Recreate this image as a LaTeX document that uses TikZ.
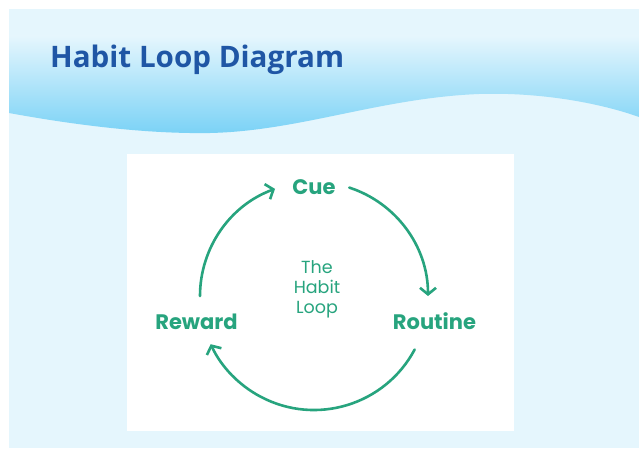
\documentclass[tikz,border=0pt]{standalone}
\usepackage{fontspec}
\setmainfont{Poppins}
\newfontfamily\headfont{Open Sans}
\usetikzlibrary{arrows.meta}

\definecolor{sky}{HTML}{E5F6FD}
\definecolor{wave}{HTML}{7AD2F6}
\definecolor{wavemid}{HTML}{B8E4F6}
\definecolor{navy}{HTML}{1F56A5}
\definecolor{loopgreen}{HTML}{27A47E}

\begin{document}
\begin{tikzpicture}[x=1pt,y=1pt,
  looparc/.style={draw=loopgreen,line width=2.6pt,line cap=round,
    -{Straight Barb[length=6.5pt,width=16pt,line width=2.6pt]}},
  stage/.style={text=loopgreen,font=\fontsize{21}{25}\selectfont\bfseries,anchor=base},
  core/.style={text=loopgreen,font=\fontsize{17.5}{19.8}\selectfont,align=center,anchor=base}]

\useasboundingbox (0,0) rectangle (639,448);
\fill[white] (0,0) rectangle (639,448);
\fill[sky] (9,0) rectangle (639,439);

% header band with the wave
\begin{scope}
  \clip (9,439) -- (9,335) .. controls (80,322) and (150,314) .. (210,315)
    .. controls (300,317) and (380,350) .. (479,354)
    .. controls (540,356) and (600,345) .. (639,331) -- (639,439) -- cycle;
  \shade[top color=sky,middle color=wavemid,bottom color=wave] (9,314) rectangle (639,412);
\end{scope}
\node[anchor=base west,inner sep=0pt,text=navy,
  font=\headfont\fontsize{29.6}{34}\selectfont\bfseries] (title) at (50,380) {Habit Loop Diagram};

% white panel
\fill[white] (127,17) rectangle (514,294);

% the loop
\coordinate (hub) at (314,152);
\node[stage] (cue) at (314,254) {Cue};
\node[stage] (routine) at (434.5,119) {Routine};
\node[stage] (reward) at (196.5,119) {Reward};
\node[core] (habit) at (317,135) {The\\Habit\\Loop};

\draw[looparc] ([shift={(180:114)}]hub) arc[start angle=180,end angle=110,radius=114pt];
\draw[looparc] ([shift={(72:114)}]hub) arc[start angle=72,end angle=0,radius=114pt];
\draw[looparc] ([shift={(-28:114)}]hub) arc[start angle=-28,end angle=-155,radius=114pt];

\end{tikzpicture}
\end{document}
